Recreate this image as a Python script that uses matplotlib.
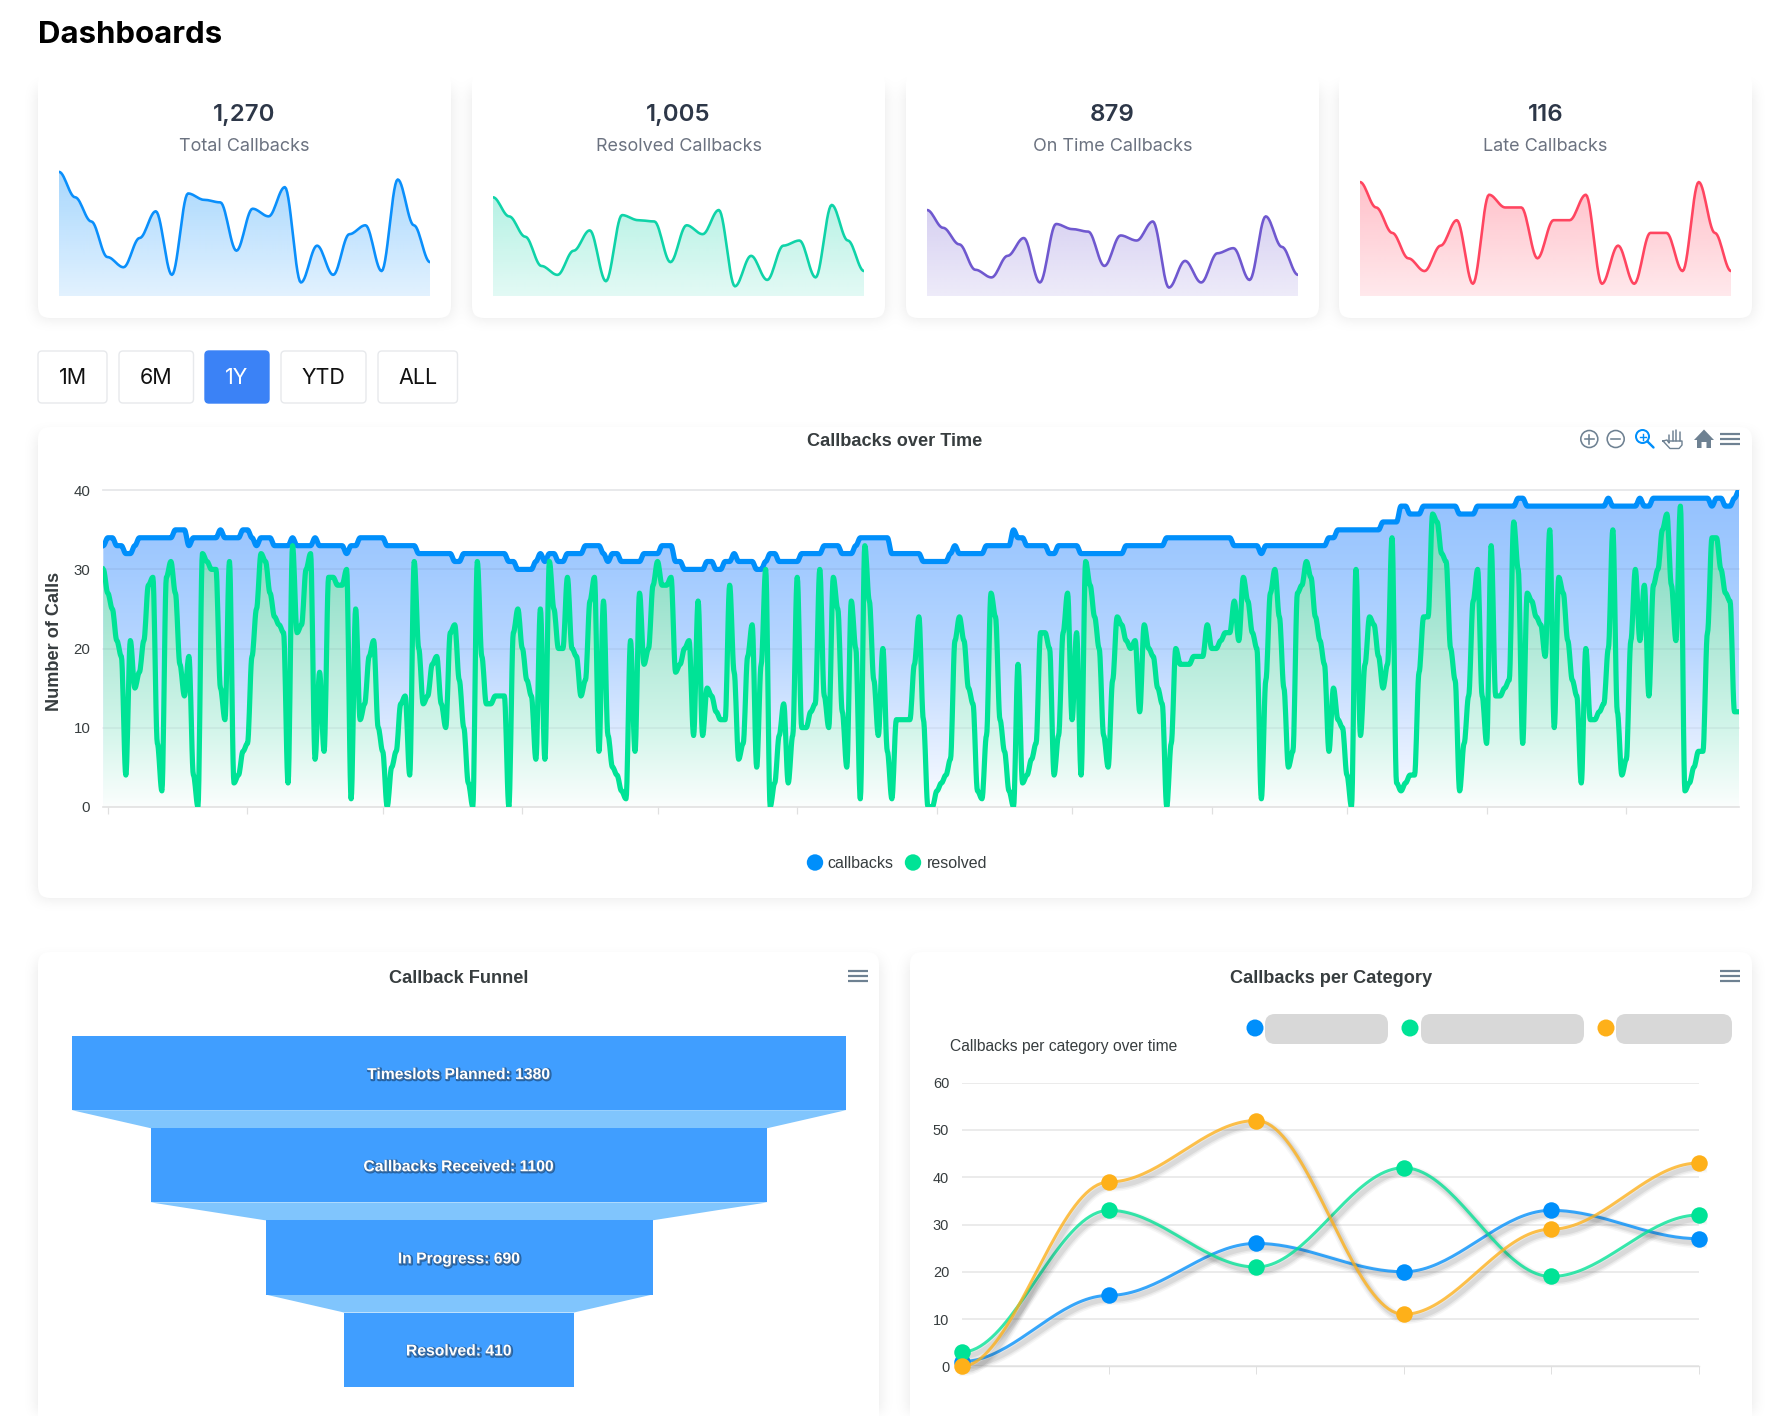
import numpy as np
import matplotlib
matplotlib.use("Agg")
import matplotlib.pyplot as plt
import matplotlib.patheffects as pe
from matplotlib.colors import LinearSegmentedColormap, to_rgb
from matplotlib.patches import FancyBboxPatch, Circle, Polygon
from matplotlib import transforms

# ---------- data ----------
kpi_values = ["1,270", "1,005", "879", "116"]
kpi_labels = ["Total Callbacks", "Resolved Callbacks", "On Time Callbacks", "Late Callbacks"]
spark_total = [98,78,59,31,23,46,67,17,81,76,74,36,69,63,86,11,40,17,49,56,20,92,56,27]
spark_resolved = [78,63,47,24,17,36,52,12,64,60,59,27,56,49,68,8,32,13,40,44,15,72,44,20]
spark_ontime = [68,54,41,21,15,32,46,11,57,53,51,24,48,44,59,7,28,11,34,38,13,63,39,17]
spark_late = [9,7,5,3,2,4,6,1,8,7,7,3,6,6,8,1,4,1,5,5,2,9,5,2]
range_buttons = ["1M", "6M", "1Y", "YTD", "ALL"]

callbacks = [
 33,34,34,33,33,32,32,33,34,34, 34,34,34,34,34,34,35,35,35,33,
 34,34,34,34,34,34,35,34,34,34, 34,35,35,34,33,34,34,34,33,33,
 33,33,34,33,33,33,33,34,33,33, 33,33,33,33,32,33,33,34,34,34,
 34,34,34,33,33,33,33,33,33,33, 32,32,32,32,32,32,32,32,31,31,
 32,32,32,32,32,32,32,32,32,32, 31,31,30,30,30,30,31,32,31,32,
 32,31,31,32,32,32,32,33,33,33, 33,32,31,32,32,31,31,31,31,31,
 32,32,32,32,33,33,33,31,31,30, 30,30,30,30,31,31,30,30,31,31,
 32,31,31,31,31,30,30,31,32,32, 31,31,31,31,31,32,32,32,32,32,
 33,33,33,33,32,32,32,33,34,34, 34,34,34,34,34,32,32,32,32,32,
 32,32,31,31,31,31,31,31,32,33, 32,32,32,32,32,32,33,33,33,33,
 33,33,35,34,34,33,33,33,33,33, 32,32,33,33,33,33,33,32,32,32,
 32,32,32,32,32,32,32,33,33,33, 33,33,33,33,33,33,34,34,34,34,
 34,34,34,34,34,34,34,34,34,34, 34,33,33,33,33,33,33,32,33,33,
 33,33,33,33,33,33,33,33,33,33, 33,33,34,34,35,35,35,35,35,35,
 35,35,35,35,36,36,36,36,38,38, 37,37,37,38,38,38,38,38,38,38,
 38,37,37,37,37,38,38,38,38,38, 38,38,38,38,39,39,38,38,38,38,
 38,38,38,38,38,38,38,38,38,38, 38,38,38,38,39,38,38,38,38,38,
 38,39,38,38,39,39,39,39,39,39, 39,39,39,39,39,39,39,38,39,39,
 38,38,39,40]
resolved = [
 30,27,25,21,19,4,21,15,17,21, 28,29,8,2,29,31,27,18,14,19,
 4,0,32,31,30,30,15,11,31,3, 4,7,8,19,25,32,31,27,24,23,
 22,3,33,22,23,30,32,6,17,7, 29,29,28,28,30,1,25,11,13,19,
 21,10,7,0,5,7,13,14,4,31, 20,13,14,18,19,13,10,22,23,16,
 10,3,0,
 31,19,13,13,14,14,14,0,22,25, 20,16,14,6,25,6,31,25,20,20,
 29,20,19,14,16,26,29,7,26,9, 5,4,2,1,21,7,27,18,20,28,
 31,28,28,29,17,18,20,21,9,26, 9,15,14,12,11,11,28,17,6,8,
 19,23,5,18,30,0,3,9,13,3, 9,29,10,10,12,13,30,14,10,29,
 25,12,5,26,20,1,33,26,16,9, 20,7,1,11,11,11,11,18,
 24,11,0,0,2,3,4,6,21,24, 21,15,13,2,1,9,27,24,11,7,
 2,0,18,3,4,6,8,22,22,20, 4,9,22,27,11,22,4,31,28,24,
 20,9,5,16,24,23,21,20,21,12, 23,20,19,15,13,0,8,20,18,18,
 18,19,19,19,23,20,20,21,22,22, 26,21,29,26,22,20,1,16,27,30,
 24,15,5,7,27,28,31,29,24,21, 18,7,15,11,10,4,0,
 30,9,18,24,23,19,15,18,34,3, 2,3,4,4,17,24,24,37,36,32,
 31,20,16,2,8,14,26,30,14,8, 33,14,14,15,16,36,30,8,27,26,
 24,23,19,35,10,29,27,21,16,14, 3,20,11,11,12,13,20,35,12,4,
 6,21,30,21,28,14,28,30,35,37, 28,21,38,2,3,5,7,7,22,34,
 34,30,27,26,12,12]
month_tick_days = [1,32,62,93,123,154,185,215,246,276,307,338]
main_yticks = [0,10,20,30,40]

funnel_labels = ["Timeslots Planned", "Callbacks Received", "In Progress", "Resolved"]
funnel_values = [1380, 1100, 690, 410]

cat_yticks = [0,10,20,30,40,50,60]
cat_blue = [1,15,26,20,33,27]
cat_green = [3,33,21,42,19,32]
cat_orange = [0,39,52,11,29,43]

# ---------- helpers ----------
W, H = 1785, 1416
UI = ['Inter', 'DejaVu Sans']
HV = ['Liberation Sans', 'DejaVu Sans']
plt.rcParams['font.family'] = HV
fig = plt.figure(figsize=(W/100, H/100), dpi=100, facecolor='white')

def px_axes(l, t, r, b, z=2):
    ax = fig.add_axes([l/W, 1-b/H, (r-l)/W, (b-t)/H], zorder=z)
    ax.patch.set_alpha(0)
    return ax

def pt(px):
    return px*0.72

def smooth(x, y, n=14):
    """Bezier segments with horizontal tangents at each point (0.35 handle)."""
    x = np.asarray(x, float); y = np.asarray(y, float)
    t = np.linspace(0, 1, n, endpoint=False)[:, None]
    x0, x1, y0, y1 = x[:-1], x[1:], y[:-1], y[1:]
    d = (x1-x0)*0.35
    bx = (1-t)**3*x0 + 3*(1-t)**2*t*(x0+d) + 3*(1-t)*t**2*(x1-d) + t**3*x1
    by = (1-t)**3*y0 + 3*(1-t)**2*t*y0 + 3*(1-t)*t**2*y1 + t**3*y1
    return np.r_[bx.T.ravel(), x[-1]], np.r_[by.T.ravel(), y[-1]]

def gradient_area(ax, sx, sy, ymax, stops, z):
    cmap = LinearSegmentedColormap.from_list('g', stops, N=256)
    arr = cmap(np.linspace(0, 1, 256))[:, None, :]
    im = ax.imshow(arr, origin='lower', aspect='auto', zorder=z,
                   extent=(sx[0], sx[-1], 0, ymax), interpolation='bilinear')
    poly = Polygon(np.c_[np.r_[sx[0], sx, sx[-1]], np.r_[0, sy, 0]], closed=True,
                   transform=ax.transData, facecolor='none', edgecolor='none')
    ax.add_patch(poly)
    im.set_clip_path(poly)

# ---------- page background with soft card shadows ----------
kpi_left = [38, 472, 906, 1339]
KW = 413
big_cards = [(38, 427, 1752, 898), (38, 952, 879, 1440), (910, 952, 1752, 1440)]
mask = np.zeros((H, W))
for l in kpi_left:
    mask[88:318, l:l+KW] = 1
for l, t, r, b in big_cards:
    mask[t+8:min(b, H), l:r] = 1
def blur(a, k):
    for axis in (0, 1):
        for _ in range(3):
            c = np.cumsum(np.insert(a, 0, 0, axis=axis), axis=axis)
            n = a.shape[axis]
            lo = np.clip(np.arange(n)-k, 0, n); hi = np.clip(np.arange(n)+k+1, 0, n)
            a = (np.take(c, hi, axis=axis)-np.take(c, lo, axis=axis))/(2*k+1)
    return a
sh = blur(mask, 7)*0.10

bg = fig.add_axes([0, 0, 1, 1], zorder=0)
bg.set_xlim(0, W); bg.set_ylim(H, 0); bg.axis('off')
bg.imshow(1-sh, cmap='gray', vmin=0, vmax=1, extent=(0, W, H, 0), aspect='auto', zorder=0)
bg.set_xlim(0, W); bg.set_ylim(H, 0)

def card(l, t, r, b, rad=12):
    bg.add_patch(FancyBboxPatch((l+rad, t+rad), r-l-2*rad, b-t-2*rad,
                 boxstyle=f"round,pad={rad},rounding_size={rad}",
                 fc='white', ec='none', zorder=1))

bg.text(38, 35, "Dashboards", fontfamily=UI, fontsize=pt(31.2), fontweight='bold',
        color='black', ha='left', va='center')

# ---------- KPI cards ----------
spark_sets = [(spark_total, 100, '#0a8ffb'), (spark_resolved, 100, '#0fd3a8'),
              (spark_ontime, 100, '#6f58cf'), (spark_late, 10, '#ff4560')]
for l, val, lab, (vals, ymax, col) in zip(kpi_left, kpi_values, kpi_labels, spark_sets):
    card(l, 70, l+KW, 318)
    cx = l+KW/2
    bg.text(cx, 115, val, fontfamily=UI, fontsize=pt(24), fontweight='semibold',
            color='#2d3748', ha='center', va='center')
    bg.text(cx, 146.5, lab, fontfamily=UI, fontsize=pt(18), color='#6b7280', ha='center', va='center')
    ax = px_axes(l+21, 169.3, l+21+371, 296.5)
    sx, sy = smooth(np.arange(len(vals)), vals)
    r, g, b = to_rgb(col)
    gradient_area(ax, sx, sy, ymax, [(0, (r, g, b, 0.12)), (1, (r, g, b, 0.36))], 1)
    ax.plot(sx, sy, color=col, lw=pt(2.6), zorder=2, solid_capstyle='round')
    ax.set_xlim(0, len(vals)-1); ax.set_ylim(0, ymax); ax.axis('off')

# ---------- range buttons ----------
btn_x = [(38, 107), (119, 193.5), (205, 269), (281, 366), (378, 457.5)]
for (a, b_), lab in zip(btn_x, range_buttons):
    active = lab == "1Y"
    bg.add_patch(FancyBboxPatch((a+4, 355), b_-a-8, 44, boxstyle="round,pad=4,rounding_size=4",
                 fc='#3b82f6' if active else 'white', ec='#3b82f6' if active else '#e7e9ec', lw=1, zorder=1))
    bg.text((a+b_)/2, 378, lab, fontfamily=UI, fontsize=pt(21.5),
            color='white' if active else '#111111', ha='center', va='center', zorder=2)

# ---------- main chart ----------
card(*big_cards[0])
bg.text(895, 441.5, "Callbacks over Time", fontsize=pt(18.2), fontweight='bold', color='#373d3f', ha='center', va='center')
ax = px_axes(103.3, 490.3, 1739, 806.7)
days = np.arange(len(callbacks))
bx, by = smooth(days, callbacks, 10)
gx, gy = smooth(days, resolved, 10)
gradient_area(ax, bx, by, 40, [(0, '#fbfdff'), (0.25, '#dbe9ff'), (0.5, '#b7d6ff'),
                               (0.75, '#a3cbff'), (1, '#93c1fe')], 1)
gradient_area(ax, gx, gy, 40, [(0, '#fbfefd'), (0.25, '#d2f5ea'), (0.5, '#b3ead9'),
                               (0.75, '#8fdfc8'), (0.95, '#7ed9c0'), (1, '#7ed9c0')], 2)
for v in main_yticks[1:]:
    ax.axhline(v, color=(0.2, 0.22, 0.3), alpha=0.12 if v == main_yticks[-1] else 0.06,
               lw=pt(1.8), zorder=3, clip_on=False)
ax.plot(bx, by, color='#008ffb', lw=pt(5.2), zorder=4, solid_joinstyle='round')
ax.plot(gx, gy, color='#00e396', lw=pt(5.2), zorder=5, solid_joinstyle='round')
ax.set_xlim(0, days[-1]); ax.set_ylim(0, 40)
for s in ax.spines.values():
    s.set_visible(False)
ax.spines['bottom'].set_visible(True); ax.spines['bottom'].set_color('#e0e0e0'); ax.spines['bottom'].set_linewidth(pt(1.6))
ax.set_xticks(month_tick_days); ax.set_xticklabels([])
ax.set_yticks(main_yticks)
ax.tick_params(axis='x', length=pt(7), width=pt(1.2), color='#e0e0e0')
ax.tick_params(axis='y', length=0, pad=pt(13), labelsize=pt(15), labelcolor='#373d3f')
ax.set_ylabel("Number of Calls", fontsize=pt(18.2), fontweight='bold', color='#373d3f', labelpad=0)
ax.yaxis.set_label_coords((63-103.3)/(1739-103.3), 0.5+7/316.4)

for mx, tx, lab, col in [(815, 827.5, "callbacks", '#008ffb'), (913, 926.5, "resolved", '#00e396')]:
    bg.add_patch(Circle((mx, 862.5), 8.2, fc=col, ec='none', zorder=2))
    bg.text(tx, 863, lab, fontsize=pt(16), color='#373d3f', ha='left', va='center', zorder=2)

# toolbar icons
IC = '#6e8192'
def menu(cx, cy):
    for dy in (-4.8, 0, 4.8):
        bg.plot([cx-10, cx+10], [cy+dy, cy+dy], color=IC, lw=pt(2.2), solid_capstyle='butt', zorder=3)
menu(1730, 439); menu(857.5, 976); menu(1730, 976)
for cx, plus in [(1589.3, True), (1615.7, False)]:
    bg.add_patch(Circle((cx, 439), 8.5, fc='none', ec=IC, lw=pt(1.6), zorder=3))
    bg.plot([cx-4.5, cx+4.5], [439, 439], color=IC, lw=pt(1.6), zorder=3)
    if plus:
        bg.plot([cx, cx], [434.5, 443.5], color=IC, lw=pt(1.6), zorder=3)
BZ = '#008ffb'
bg.add_patch(Circle((1642.5, 436.5), 6.5, fc='none', ec=BZ, lw=pt(2), zorder=3))
bg.plot([1647.5, 1653.5], [441.5, 447.5], color=BZ, lw=pt(2.4), zorder=3, solid_capstyle='round')
bg.plot([1639.5, 1645.5], [436.5, 436.5], color=BZ, lw=pt(1.4), zorder=3)
bg.plot([1642.5, 1642.5], [433.5, 439.5], color=BZ, lw=pt(1.4), zorder=3)
for fx, top in [(1669, 435), (1672.5, 431), (1676, 430), (1679.5, 432)]:
    bg.plot([fx, fx], [top, 441], color=IC, lw=pt(1.5), zorder=3, solid_capstyle='round')
bg.plot([1663, 1667, 1669, 1669, 1682, 1682, 1679, 1670, 1663],
        [441, 440, 443, 441, 441, 445, 448.5, 448.5, 441], color=IC, lw=pt(1.4), zorder=3)
bg.add_patch(Polygon([(1694, 440), (1704, 429.5), (1714, 440), (1711, 440), (1711, 448),
                      (1706.5, 448), (1706.5, 442), (1701.5, 442), (1701.5, 448), (1697, 448), (1697, 440)],
                     closed=True, fc=IC, ec='none', zorder=3))

# ---------- funnel ----------
card(*big_cards[1])
bg.text(459, 978.5, "Callback Funnel", fontsize=pt(18.2), fontweight='bold', color='#373d3f', ha='center', va='center')
ax = px_axes(72, 1036, 846, 1386.7)
bar_h = 0.805
pos = np.arange(len(funnel_values))
ax.barh(pos, funnel_values, left=-np.array(funnel_values)/2, height=bar_h, color='#409eff', zorder=2)
for i in range(len(funnel_values)-1):
    a, b_ = funnel_values[i]/2, funnel_values[i+1]/2
    y0, y1 = pos[i]+bar_h/2, pos[i+1]-bar_h/2
    ax.add_patch(Polygon([(-a, y0), (a, y0), (b_, y1), (-b_, y1)], closed=True, fc='#80c5fd', ec='none', zorder=1))
for i, (lab, v) in enumerate(zip(funnel_labels, funnel_values)):
    ax.text(0, i+0.015, f"{lab}: {v}", color='white', fontsize=pt(15.7), fontweight='bold', ha='center', va='center',
            zorder=3, path_effects=[pe.Stroke(linewidth=1.8, foreground='#123a66', alpha=0.6, offset=(0.7, -0.7)), pe.Normal()])
ax.set_xlim(-690, 690); ax.set_ylim(pos[-1]+bar_h/2, -bar_h/2); ax.axis('off')

# ---------- category chart ----------
card(*big_cards[2])
bg.text(1331, 978.5, "Callbacks per Category", fontsize=pt(18.2), fontweight='bold', color='#373d3f', ha='center', va='center')
bg.text(950, 1046, "Callbacks per category over time", fontsize=pt(15.6), color='#373d3f', ha='left', va='center', zorder=2)
for mx, a, b_, col in [(1255, 1265, 1388, '#008ffb'), (1410, 1421, 1584, '#00e396'), (1606, 1616, 1732, '#feb019')]:
    bg.add_patch(Circle((mx, 1028), 8.5, fc=col, ec='none', zorder=2))
    bg.add_patch(FancyBboxPatch((a+10, 1024), b_-a-20, 10, boxstyle="round,pad=10,rounding_size=10",
                                fc='#d8d8d8', ec='none', zorder=2))
ax = px_axes(961.5, 1082.7, 1698.5, 1366.3)
xc = np.arange(len(cat_blue))
shadow = transforms.offset_copy(ax.transData, fig=fig, x=3, y=-4, units='dots')
for vals, col, z in [(cat_blue, '#008ffb', 3), (cat_green, '#00e396', 4), (cat_orange, '#feb019', 5)]:
    sx, sy = smooth(xc, vals, 40)
    for lw, al in [(11, 0.04), (8, 0.06), (5, 0.08)]:
        ax.plot(sx, sy, color='#222222', alpha=al, lw=pt(lw), transform=shadow, zorder=z-0.5, clip_on=False)
    ax.plot(sx, sy, color=col, alpha=0.78, lw=pt(3), zorder=z, clip_on=False)
    ax.plot(xc, vals, ls='none', marker='o', ms=pt(16.5), mfc=col, mec='none', zorder=z+0.2, clip_on=False)
ax.set_xlim(0, xc[-1]); ax.set_ylim(0, 60)
ax.set_yticks(cat_yticks); ax.set_xticks(xc[1:]); ax.set_xticklabels([])
ax.grid(axis='y', color='#e7e7e7', lw=pt(1.6), zorder=0)
ax.set_axisbelow(True)
for s in ax.spines.values():
    s.set_visible(False)
ax.spines['bottom'].set_visible(True); ax.spines['bottom'].set_color('#e0e0e0'); ax.spines['bottom'].set_linewidth(pt(1.4))
ax.tick_params(axis='x', length=pt(8), width=pt(1), color='#e0e0e0')
ax.tick_params(axis='y', length=0, pad=pt(12.5), labelsize=pt(14.5), labelcolor='#373d3f')

fig.savefig('out.png', dpi=100)
